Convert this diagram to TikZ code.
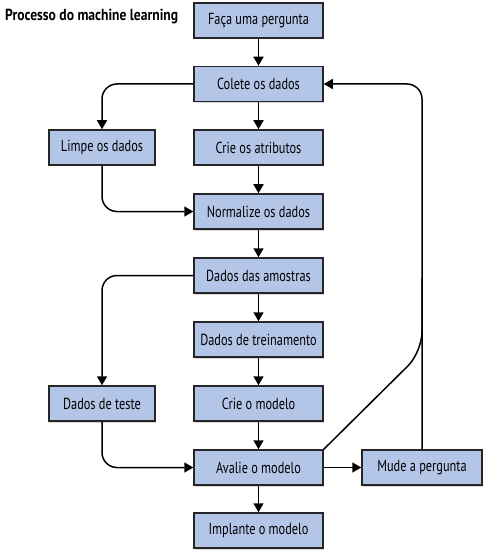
\documentclass[tikz,border=0pt]{standalone}
\usepackage{fontspec}
\setmainfont{PT Sans}[FakeStretch=0.77]
\newfontfamily\titlefont{PT Sans}[FakeStretch=0.85]
\usetikzlibrary{arrows.meta,shadows}
\definecolor{boxblue}{HTML}{B4C6E7}
\tikzset{
  box/.style={draw=black!85, line width=1.5pt, fill=boxblue, minimum width=129pt,
    minimum height=35pt, inner sep=0pt, font=\fontsize{16}{18}\selectfont,
    drop shadow={shadow xshift=1.3pt, shadow yshift=-1.5pt, opacity=0.3}},
  conn/.style={line width=1.5pt, -{Triangle[width=10pt,length=9pt]}, rounded corners=15pt},
  line/.style={line width=1.5pt, rounded corners=20pt}
}
\begin{document}
\begin{tikzpicture}[x=1pt,y=-1pt]
\useasboundingbox (0,0) rectangle (496,553);
\node[anchor=west, font=\titlefont\bfseries\fontsize{16}{18}\selectfont, inner sep=0pt] (title) at (5,17) {Processo do machine learning};
\node[box] (q) at (258.5,20.5) {Faça uma pergunta};
\node[box] (c) at (258.5,84) {Colete os dados};
\node[box] (a) at (258.5,147.5) {Crie os atributos};
\node[box, minimum width=106pt] (l) at (102,147.5) {Limpe os dados};
\node[box] (n) at (258.5,211.5) {Normalize os dados};
\node[box] (s) at (258.5,275.5) {Dados das amostras};
\node[box] (t) at (258.5,339.5) {Dados de treinamento};
\node[box] (m) at (258.5,403.5) {Crie o modelo};
\node[box, minimum width=106pt] (d) at (102,403.5) {Dados de teste};
\node[box] (e) at (258.5,467.5) {Avalie o modelo};
\node[box, minimum width=120pt] (r) at (422,467.5) {Mude a pergunta};
\node[box] (i) at (258.5,530.5) {Implante o modelo};
\coordinate (bend) at (422,352);
\coordinate (join) at (422,278);
\draw[conn] (q) -- (c);
\draw[conn] (c) -- (a);
\draw[conn] (a) -- (n);
\draw[conn] (n) -- (s);
\draw[conn] (s) -- (t);
\draw[conn] (t) -- (m);
\draw[conn] (m) -- (e);
\draw[conn] (e) -- (i);
\draw[conn] (c.west) -| (l.north);
\draw[conn] (l.south) |- (n.west);
\draw[conn] (s.west) -| (d.north);
\draw[conn] (d.south) |- (e.west);
\draw[conn] (e.east) -- (r.west);
\draw[conn] (r.north) |- (c.east);
\draw[line] (e.north east) -- (bend) -- (join);
\end{tikzpicture}
\end{document}
